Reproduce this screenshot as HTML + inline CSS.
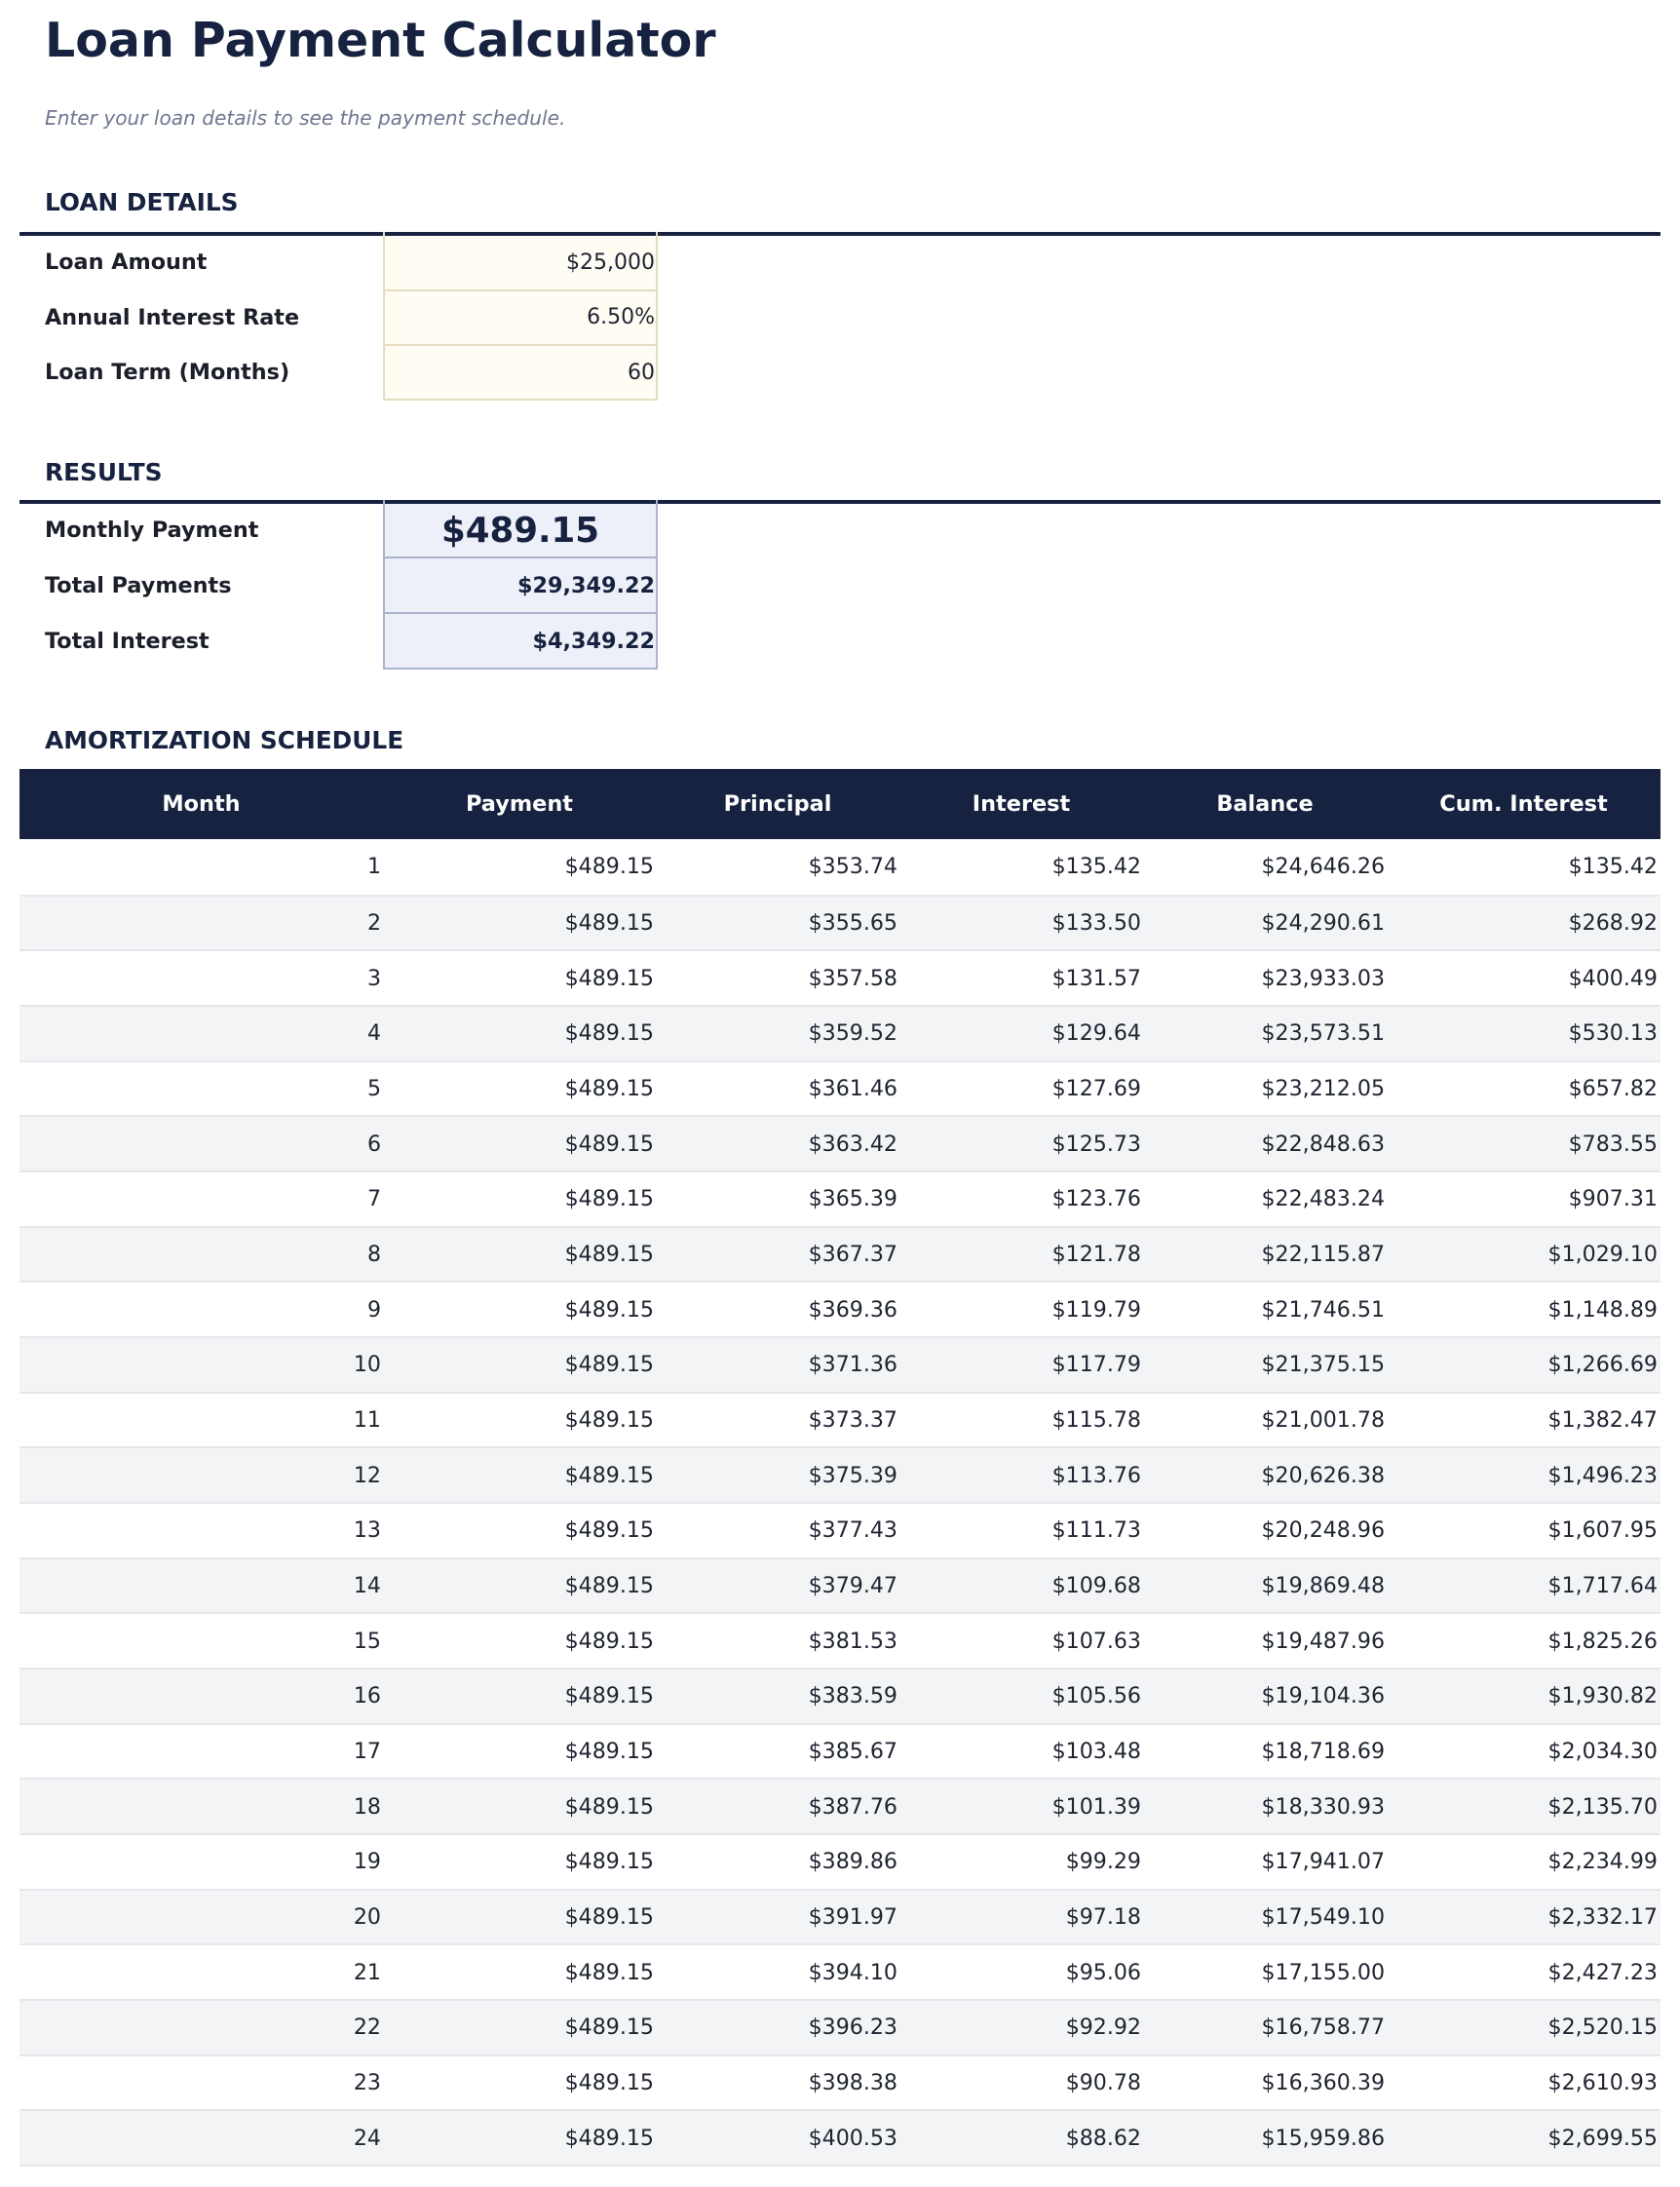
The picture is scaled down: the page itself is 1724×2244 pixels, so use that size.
<!DOCTYPE html>
<html>
<head>
<meta charset="utf-8">
<style>
*{margin:0;padding:0;box-sizing:border-box;}
html,body{width:1724px;height:2244px;background:#fff;overflow:hidden;}
body{position:relative;font-family:"DejaVu Sans","Liberation Sans",sans-serif;color:#1f2430;}
.abs{position:absolute;white-space:nowrap;}
.title{left:46px;top:16.6px;font-size:49px;line-height:49px;font-weight:bold;color:#16223f;}
.sub{left:46px;top:110.6px;font-size:20.1px;line-height:20px;font-style:italic;color:#6f7891;}
.h{left:46px;font-size:24.8px;line-height:24px;font-weight:bold;color:#16223f;}
.line{left:20px;width:1684px;height:4px;background:#16223f;}
.lab{left:46px;width:340px;display:flex;align-items:center;font-size:22.3px;font-weight:bold;color:#1c1f2a;}
.inp{left:393px;width:282px;display:flex;align-items:center;justify-content:flex-end;padding-right:1px;font-size:22px;background:#fffcf3;border:2px solid #e6dcc0;border-top:none;color:#1f2430;}
.res{left:393px;width:282px;display:flex;align-items:center;justify-content:flex-end;padding-right:1px;font-size:22.3px;font-weight:bold;background:#edf0f8;border:2px solid #aab4cc;border-top:none;color:#16223f;}
.big{justify-content:center;font-size:35.6px;padding-right:0;}
.tick{width:2px;height:4px;}
.hdr{left:20px;top:789px;width:1684px;height:72px;background:#16223f;display:grid;grid-template-columns:373px 280px 250px 250px 250px 281px;}
.hdr div{display:flex;align-items:center;justify-content:center;color:#fff;font-size:22.4px;font-weight:bold;}
.r{position:absolute;left:20px;width:1684px;display:grid;grid-template-columns:373px 280px 250px 250px 250px 281px;border-bottom:2px solid #e5e7eb;background:#fff;font-size:22.1px;color:#1f2430;}
.r.s{background:#f3f4f6;}
.r div{display:flex;align-items:center;justify-content:flex-end;padding-right:2px;}
.r div:last-child{padding-right:3px;}
</style>
</head>
<body>
<div class="abs title">Loan Payment Calculator</div>
<div class="abs sub">Enter your loan details to see the payment schedule.</div>

<div class="abs h" style="top:196.4px;">LOAN DETAILS</div>
<div class="abs line" style="top:238px;"></div>
<div class="abs tick" style="left:393px;top:238px;background:#e6dcc0;"></div>
<div class="abs tick" style="left:673px;top:238px;background:#e6dcc0;"></div>

<div class="abs lab" style="top:242px;height:54.7px;">Loan Amount</div>
<div class="abs inp" style="top:242px;height:56.7px;">$25,000</div>
<div class="abs lab" style="top:298.7px;height:54.6px;">Annual Interest Rate</div>
<div class="abs inp" style="top:298.7px;height:56.6px;">6.50%</div>
<div class="abs lab" style="top:355.3px;height:54px;">Loan Term (Months)</div>
<div class="abs inp" style="top:355.3px;height:56px;">60</div>

<div class="abs h" style="top:472.7px;">RESULTS</div>
<div class="abs line" style="top:513px;"></div>
<div class="abs tick" style="left:393px;top:513px;background:#aab4cc;"></div>
<div class="abs tick" style="left:673px;top:513px;background:#aab4cc;"></div>

<div class="abs lab" style="top:517px;height:54px;">Monthly Payment</div>
<div class="abs res big" style="top:517px;height:56px;">$489.15</div>
<div class="abs lab" style="top:573px;height:55px;">Total Payments</div>
<div class="abs res" style="top:573px;height:57px;">$29,349.22</div>
<div class="abs lab" style="top:630px;height:55px;">Total Interest</div>
<div class="abs res" style="top:630px;height:57px;">$4,349.22</div>

<div class="abs h" style="top:747.7px;">AMORTIZATION SCHEDULE</div>

<div class="abs hdr">
<div>Month</div><div>Payment</div><div>Principal</div><div>Interest</div><div>Balance</div><div>Cum. Interest</div>
</div>

<div class="r" style="top:861px;height:58.6px;"><div>1</div><div>$489.15</div><div>$353.74</div><div>$135.42</div><div>$24,646.26</div><div>$135.42</div></div>
<div class="r s" style="top:919.6px;height:56.67px;"><div>2</div><div>$489.15</div><div>$355.65</div><div>$133.50</div><div>$24,290.61</div><div>$268.92</div></div>
<div class="r" style="top:976.27px;height:56.67px;"><div>3</div><div>$489.15</div><div>$357.58</div><div>$131.57</div><div>$23,933.03</div><div>$400.49</div></div>
<div class="r s" style="top:1032.94px;height:56.67px;"><div>4</div><div>$489.15</div><div>$359.52</div><div>$129.64</div><div>$23,573.51</div><div>$530.13</div></div>
<div class="r" style="top:1089.61px;height:56.67px;"><div>5</div><div>$489.15</div><div>$361.46</div><div>$127.69</div><div>$23,212.05</div><div>$657.82</div></div>
<div class="r s" style="top:1146.28px;height:56.67px;"><div>6</div><div>$489.15</div><div>$363.42</div><div>$125.73</div><div>$22,848.63</div><div>$783.55</div></div>
<div class="r" style="top:1202.95px;height:56.67px;"><div>7</div><div>$489.15</div><div>$365.39</div><div>$123.76</div><div>$22,483.24</div><div>$907.31</div></div>
<div class="r s" style="top:1259.62px;height:56.67px;"><div>8</div><div>$489.15</div><div>$367.37</div><div>$121.78</div><div>$22,115.87</div><div>$1,029.10</div></div>
<div class="r" style="top:1316.29px;height:56.67px;"><div>9</div><div>$489.15</div><div>$369.36</div><div>$119.79</div><div>$21,746.51</div><div>$1,148.89</div></div>
<div class="r s" style="top:1372.96px;height:56.67px;"><div>10</div><div>$489.15</div><div>$371.36</div><div>$117.79</div><div>$21,375.15</div><div>$1,266.69</div></div>
<div class="r" style="top:1429.63px;height:56.67px;"><div>11</div><div>$489.15</div><div>$373.37</div><div>$115.78</div><div>$21,001.78</div><div>$1,382.47</div></div>
<div class="r s" style="top:1486.3px;height:56.67px;"><div>12</div><div>$489.15</div><div>$375.39</div><div>$113.76</div><div>$20,626.38</div><div>$1,496.23</div></div>
<div class="r" style="top:1542.97px;height:56.67px;"><div>13</div><div>$489.15</div><div>$377.43</div><div>$111.73</div><div>$20,248.96</div><div>$1,607.95</div></div>
<div class="r s" style="top:1599.64px;height:56.67px;"><div>14</div><div>$489.15</div><div>$379.47</div><div>$109.68</div><div>$19,869.48</div><div>$1,717.64</div></div>
<div class="r" style="top:1656.31px;height:56.67px;"><div>15</div><div>$489.15</div><div>$381.53</div><div>$107.63</div><div>$19,487.96</div><div>$1,825.26</div></div>
<div class="r s" style="top:1712.98px;height:56.67px;"><div>16</div><div>$489.15</div><div>$383.59</div><div>$105.56</div><div>$19,104.36</div><div>$1,930.82</div></div>
<div class="r" style="top:1769.65px;height:56.67px;"><div>17</div><div>$489.15</div><div>$385.67</div><div>$103.48</div><div>$18,718.69</div><div>$2,034.30</div></div>
<div class="r s" style="top:1826.32px;height:56.67px;"><div>18</div><div>$489.15</div><div>$387.76</div><div>$101.39</div><div>$18,330.93</div><div>$2,135.70</div></div>
<div class="r" style="top:1882.99px;height:56.67px;"><div>19</div><div>$489.15</div><div>$389.86</div><div>$99.29</div><div>$17,941.07</div><div>$2,234.99</div></div>
<div class="r s" style="top:1939.66px;height:56.67px;"><div>20</div><div>$489.15</div><div>$391.97</div><div>$97.18</div><div>$17,549.10</div><div>$2,332.17</div></div>
<div class="r" style="top:1996.33px;height:56.67px;"><div>21</div><div>$489.15</div><div>$394.10</div><div>$95.06</div><div>$17,155.00</div><div>$2,427.23</div></div>
<div class="r s" style="top:2053px;height:56.67px;"><div>22</div><div>$489.15</div><div>$396.23</div><div>$92.92</div><div>$16,758.77</div><div>$2,520.15</div></div>
<div class="r" style="top:2109.67px;height:56.67px;"><div>23</div><div>$489.15</div><div>$398.38</div><div>$90.78</div><div>$16,360.39</div><div>$2,610.93</div></div>
<div class="r s" style="top:2166.34px;height:56.67px;"><div>24</div><div>$489.15</div><div>$400.53</div><div>$88.62</div><div>$15,959.86</div><div>$2,699.55</div></div>
</body>
</html>
